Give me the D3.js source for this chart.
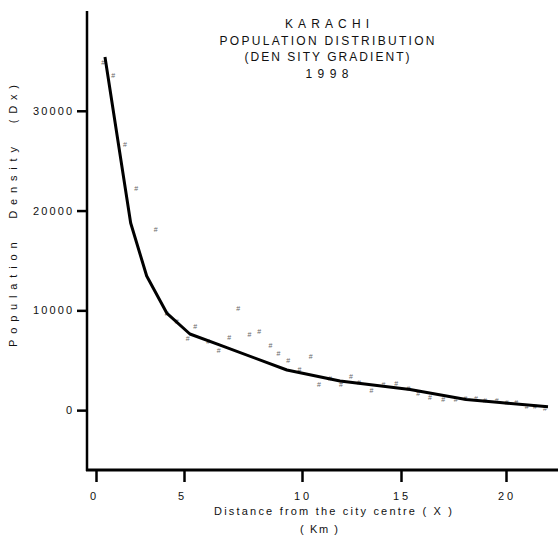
<!DOCTYPE html>
<html>
<head>
<meta charset="utf-8">
<script src="https://cdn.jsdelivr.net/npm/d3@7"></script>
<style>
  body { margin: 0; padding: 0; background: #fff; overflow: hidden; }
  text { font-family: "Liberation Sans Narrow", "Arial Narrow", "Liberation Sans", Arial, sans-serif; }
</style>
</head>
<body>
<script>
// observed densities (the little # marks)
const obsDistance = [0.41, 0.98, 1.65, 2.29, 3.39, 4.02, 4.59, 5.16, 5.48, 6.03, 6.47, 6.92, 7.30, 7.77, 8.19,
  8.66, 9.00, 9.42, 9.89, 10.44, 10.86, 11.41, 11.97, 12.47, 12.88, 13.51, 14.12, 14.76, 15.35, 15.82,
  16.38, 17.01, 17.60, 18.07, 18.57, 19.00, 19.56, 20.03, 20.48, 20.99, 21.38, 21.86];
const obsDensity = [34860, 33580, 26640, 22230, 18120, 9700, 8860, 7200, 8430, 6860, 6020, 7300, 10200, 7530, 7860,
  6520, 5690, 4950, 4090, 5390, 2590, 3190, 2590, 3390, 2750, 2010, 2520, 2620, 2150, 1680,
  1280, 1090, 1030, 1180, 1150, 940, 940, 740, 740, 410, 340, 180];

// fitted gradient line
const fitDistance = [0.51, 1.23, 1.97, 2.88, 4.02, 5.25, 6.53, 9.36, 11.92, 15.43, 18.10, 19.71, 22.0];
const fitDensity = [35390, 27170, 18750, 13440, 9730, 7630, 6520, 4020, 2920, 2070, 1060, 760, 340];

const xTicks = [0, 5, 10, 15, 20];
const yTicks = [0, 10000, 20000, 30000];
const titleLines = ["KARACHI", "POPULATION DISTRIBUTION", "(DEN SITY GRADIENT)", "1998"];

const W = 558, H = 537;

const body = d3.select("body");
const svg = body.append("svg").attr("width", W).attr("height", H);

// hand-drawn tick spacing on the original is uneven, so keep it piecewise
const x = d3.scaleLinear().domain([0, 5, 10, 15, 20]).range([96, 184, 302, 401, 506]);
const y = d3.scaleLinear().domain([-6000, 40000]).range([470, 11]);

// axes lines
svg.append("line").attr("x1", 87).attr("x2", 87).attr("y1", 11).attr("y2", 471)
  .attr("stroke", "#000").attr("stroke-width", 2.5);
svg.append("line").attr("x1", 86).attr("x2", W).attr("y1", 470).attr("y2", 470)
  .attr("stroke", "#000").attr("stroke-width", 3);

const yAxis = svg.append("g").attr("transform", "translate(87,0)")
  .call(d3.axisLeft(y).tickValues(yTicks).tickSize(10).tickFormat(""));
yAxis.select(".domain").remove();
yAxis.selectAll(".tick line").attr("stroke-width", 2.5);

const xAxis = svg.append("g").attr("transform", "translate(0,470)")
  .call(d3.axisBottom(x).tickValues(xTicks).tickSize(12).tickFormat(""));
xAxis.select(".domain").remove();
xAxis.selectAll(".tick line").attr("stroke-width", 2.5);

// tick labels, spaced out like the typewriter-ish original
const yLabelW = s => s.length > 1 ? s.length * 8 - 1 : 6;
svg.append("g").selectAll("text").data(yTicks).enter().append("text")
  .attr("x", d => 72 - yLabelW(String(d)))
  .attr("y", d => y(d) + 4)
  .style("font-size", "11px").attr("fill", "#111")
  .attr("textLength", d => yLabelW(String(d))).attr("lengthAdjust", "spacing")
  .text(d => d);

svg.append("g").selectAll("text").data(xTicks).enter().append("text")
  .attr("x", d => x(d) - (d < 10 ? 6 : 8))
  .attr("y", 500)
  .style("font-size", "11px").attr("fill", "#111")
  .attr("textLength", d => d < 10 ? 6 : 15).attr("lengthAdjust", "spacing")
  .text(d => d);

// titles: each line is spread out to the width it had on the original
const titleWidths = [84, 215, 165, 43];
svg.append("g").selectAll("text").data(titleLines).enter().append("text")
  .attr("x", 327).attr("y", (d, i) => 28 + i * 16.6)
  .attr("text-anchor", "middle").style("font-size", "12px").attr("fill", "#111")
  .attr("textLength", (d, i) => titleWidths[i]).attr("lengthAdjust", "spacing")
  .text(d => d);

svg.append("text").attr("transform", "translate(17,216) rotate(-90)")
  .attr("text-anchor", "middle").style("font-size", "11px").attr("fill", "#111")
  .attr("textLength", 262).attr("lengthAdjust", "spacing")
  .attr("xml:space", "preserve")
  .text("Population  Density  (Dx)");

svg.append("text").attr("x", 333).attr("y", 515)
  .attr("text-anchor", "middle").style("font-size", "11px").attr("fill", "#111")
  .attr("textLength", 238).attr("lengthAdjust", "spacing")
  .attr("xml:space", "preserve")
  .text("Distance from the city centre ( X )");
svg.append("text").attr("x", 319).attr("y", 533)
  .attr("text-anchor", "middle").style("font-size", "11px").attr("fill", "#111")
  .attr("textLength", 38).attr("lengthAdjust", "spacing")
  .attr("xml:space", "preserve")
  .text("( Km )");

// observed marks
const obs = obsDistance.map((d, i) => [d, obsDensity[i]]);
svg.append("g").selectAll("text").data(obs).enter().append("text")
  .attr("x", d => x(d[0])).attr("y", d => y(d[1]))
  .attr("text-anchor", "middle").attr("dominant-baseline", "central")
  .style("font-size", "7px").attr("fill", "#666")
  .text("#");

// fitted line
const fit = fitDistance.map((d, i) => [d, fitDensity[i]]);
svg.append("path").datum(fit)
  .attr("fill", "none").attr("stroke", "#000").attr("stroke-width", 3)
  .attr("stroke-linejoin", "round")
  .attr("d", d3.line().x(d => x(d[0])).y(d => y(d[1])));
</script>
</body>
</html>
